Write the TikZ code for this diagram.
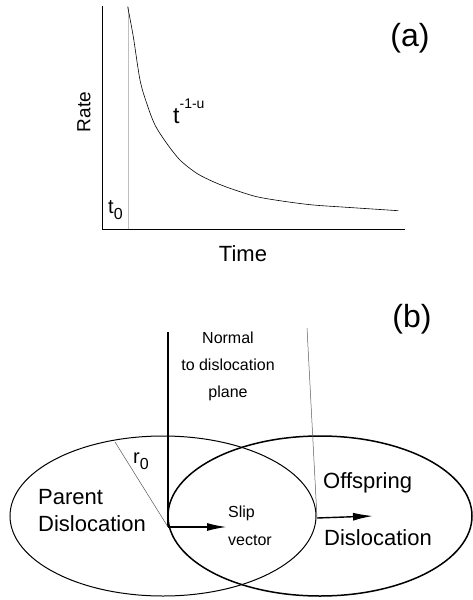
\documentclass[tikz,border=0pt]{standalone}
\usepackage{fontspec}
\setmainfont{Liberation Sans}
\usetikzlibrary{arrows.meta,positioning}
\tikzset{
  lbl/.style={inner sep=0pt,font=\fontsize{22}{27}\selectfont},
  small/.style={inner sep=0pt,font=\fontsize{16}{27}\selectfont},
  panel/.style={inner sep=0pt,font=\fontsize{32}{36}\selectfont},
  slip/.style={line width=1.8pt,-{Latex[length=20pt,width=8pt]}},
  guide/.style={gray!70!black,line width=0.5pt}
}

\begin{document}
\begin{tikzpicture}[x=1pt,y=-1pt]
  \useasboundingbox (0,0) rectangle (472,600);
  \coordinate (orig) at (102,229);
  \coordinate (ytop) at (102,6);
  \coordinate (xend) at (405,229);
  \coordinate (tzbase) at (128,229);
  \coordinate (tztop) at (128,7);
  \draw[line width=1pt] (ytop) -- (orig) -- (xend);
  \draw[gray!50,line width=0.6pt] (tzbase) -- (tztop);
  \draw[line width=0.6pt] plot[smooth] coordinates {(127.7,6.7) (133.3,36.7) (140,80) (146.7,103.3) (155,125) (166.7,143.3) (180,160) (196.7,173.3) (213.3,181.7) (230,188.3) (256.7,196.7) (286.7,201.7) (313.3,205) (346.7,207.3) (398.3,210.7)};
  \node[lbl,rotate=90,font=\fontsize{19}{22}\selectfont] (rate) at (84,112) {Rate};
  \node[lbl] (time) at (243,254) {Time};
  \node[lbl,font=\fontsize{20}{22}\selectfont,anchor=base west] (tzero) at (108,213) {t\raisebox{-6pt}{\fontsize{16}{16}\selectfont 0}};
  \node[lbl,font=\fontsize{23}{26}\selectfont,anchor=base west] (power) at (173,123) {t\raisebox{15pt}{\fontsize{14}{14}\selectfont -1-u}};
  \node[panel] (pa) at (410,38) {(a)};

  \coordinate (nbase) at (168,527);
  \coordinate (ntop) at (168,332);
  \coordinate (rtip) at (115,442);
  \coordinate (otop) at (307,328);
  \coordinate (obase) at (317,518);
  \coordinate (slipend) at (227,527);
  \coordinate (offend) at (373,516);
  \draw[line width=1pt] (163,516) ellipse [x radius=153,y radius=80];
  \draw[line width=1.5pt] (320,516) ellipse [x radius=152,y radius=80];
  \draw[line width=1.1pt] (ntop) -- (nbase);
  \draw[guide] (rtip) -- (nbase);
  \draw[guide] (otop) -- (obase);
  \draw[slip] (nbase) -- (slipend);
  \draw[slip,line width=1.4pt] (obase) -- (offend);
  \node[small,align=center] (normal) at (228,366) {Normal\\to dislocation\\plane};
  \node[lbl,align=left,anchor=west] (parent) at (38,511) {Parent\\Dislocation};
  \node[small,align=left,anchor=west,font=\fontsize{16}{28}\selectfont] (slipv) at (228,526) {Slip\\vector};
  \node[lbl,anchor=west] (offs) at (323,483) {Offspring};
  \node[lbl,anchor=west] (odisl) at (324,538) {Dislocation};
  \node[lbl,font=\fontsize{20}{22}\selectfont,anchor=base west] (rzero) at (133,463) {r\raisebox{-6pt}{\fontsize{16}{16}\selectfont 0}};
  \node[panel] (pb) at (412,319) {(b)};
\end{tikzpicture}
\end{document}
